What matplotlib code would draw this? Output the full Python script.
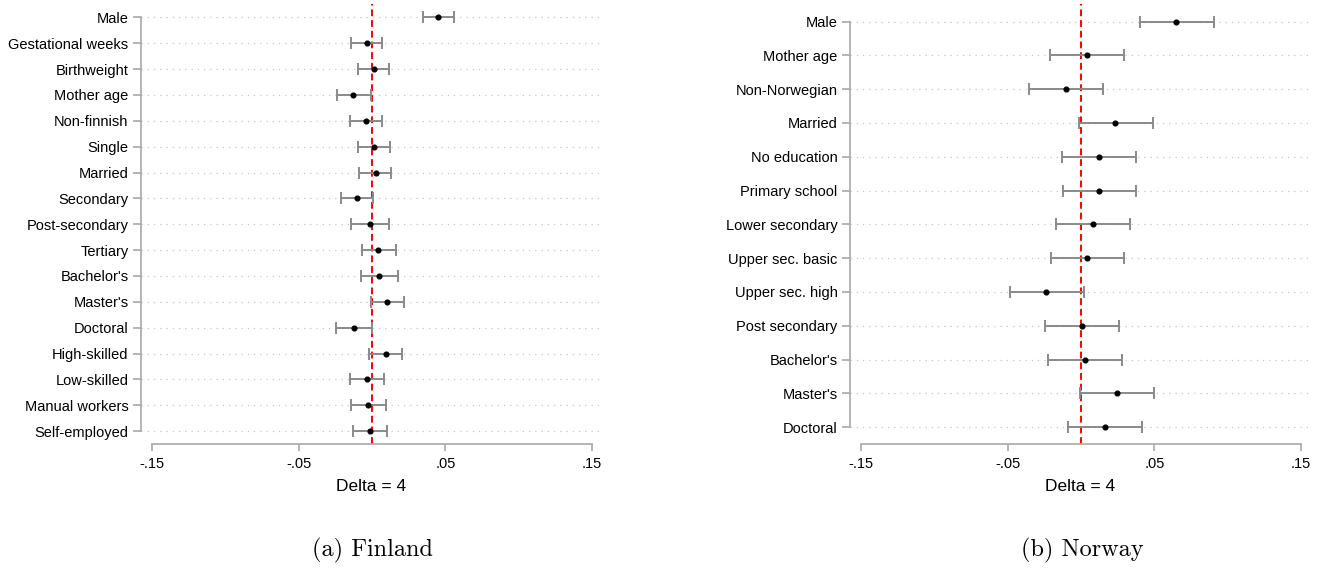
import matplotlib
matplotlib.use("Agg")
import matplotlib.pyplot as plt
import numpy as np

plt.rcParams['font.family'] = ['Liberation Sans', 'DejaVu Sans']

# ---------------- data ----------------
fin_labels = ["Male", "Gestational weeks", "Birthweight", "Mother age", "Non-finnish",
              "Single", "Married", "Secondary", "Post-secondary", "Tertiary",
              "Bachelor's", "Master's", "Doctoral", "High-skilled", "Low-skilled",
              "Manual workers", "Self-employed"]
fin_est = [0.045, -0.0036, 0.0011, -0.0128, -0.0039, 0.0014, 0.0023, -0.0102, -0.0016,
           0.0043, 0.0050, 0.0102, -0.0125, 0.0091, -0.0036, -0.0027, -0.0016]
fin_lo = [0.035, -0.0143, -0.0096, -0.0240, -0.0148, -0.0098, -0.0087, -0.0216, -0.0143,
          -0.0070, -0.0075, -0.0009, -0.0246, -0.0025, -0.0152, -0.0146, -0.0134]
fin_hi = [0.056, 0.0068, 0.0116, -0.0009, 0.0070, 0.0120, 0.0128, 0.0009, 0.0114,
          0.0162, 0.0173, 0.0218, -0.0002, 0.0207, 0.0080, 0.0091, 0.0102]

nor_labels = ["Male", "Mother age", "Non-Norwegian", "Married", "No education",
              "Primary school", "Lower secondary", "Upper sec. basic", "Upper sec. high",
              "Post secondary", "Bachelor's", "Master's", "Doctoral"]
nor_est = [0.065, 0.0039, -0.0101, 0.0233, 0.0121, 0.0125, 0.0080, 0.0043, -0.0238,
           0.0009, 0.0023, 0.0245, 0.0166]
nor_lo = [0.040, -0.0212, -0.0354, -0.0018, -0.0130, -0.0125, -0.0171, -0.0208, -0.0488,
          -0.0245, -0.0228, -0.0005, -0.0087]
nor_hi = [0.0904, 0.0290, 0.0151, 0.0488, 0.0375, 0.0375, 0.0331, 0.0295, 0.0016,
          0.0260, 0.0276, 0.0498, 0.0418]

xticks = [-0.15, -0.05, 0.05, 0.15]
xticklabels = ["-.15", "-.05", ".05", ".15"]
xlabel = "Delta = 4"
captions = ["(a) Finland", "(b) Norway"]

# ---------------- figure ----------------
W, H = 1324, 571
fig = plt.figure(figsize=(W / 100, H / 100), dpi=100)

GREY = "#8a8a8a"
SPINE = "#a8a8a8"
GRID = "#c4c4c4"


def panel(left_px, labels, est, lo, hi):
    top_px, bot_px, right_px = 4, 444, left_px + 460
    ax = fig.add_axes([left_px / W, 1 - bot_px / H, (right_px - left_px) / W,
                       (bot_px - top_px) / H])
    n = len(labels)
    y = np.arange(n)
    est = np.asarray(est)
    lo = np.asarray(lo)
    hi = np.asarray(hi)
    ax.set_xlim(-0.1578, 0.1562)
    ax.set_ylim(n - 1 + 0.5, -0.52)
    for yy in y:
        ax.axhline(yy, color=GRID, lw=0.9, ls=(0, (1, 4)), zorder=0)
    ax.axvline(0, color="#ff0000", lw=1.4, ls=(0, (3.5, 2)), zorder=1)
    ax.errorbar(est, y, xerr=[est - lo, hi - est], fmt="none", ecolor=GREY,
                elinewidth=1.4, capsize=4, capthick=1.4, zorder=2)
    ax.plot(est, y, "o", color="black", ms=3.4, zorder=3)
    ax.set_yticks(y)
    ax.set_yticklabels(labels, fontsize=10.5)
    ax.set_xticks(xticks)
    ax.set_xticklabels(xticklabels, fontsize=10.5)
    for s in ["top", "right"]:
        ax.spines[s].set_visible(False)
    ax.spines["left"].set_bounds(0, n - 1)
    ax.spines["bottom"].set_bounds(-0.15, 0.15)
    for s in ["left", "bottom"]:
        ax.spines[s].set_color(SPINE)
        ax.spines[s].set_linewidth(1.2)
    ax.tick_params(axis="y", length=6, width=1.2, color=SPINE, pad=3)
    ax.tick_params(axis="x", length=5, width=1.2, color=SPINE, pad=4)
    ax.set_xlabel(xlabel, fontsize=12.5, labelpad=6)
    return ax


panel(141, fin_labels, fin_est, fin_lo, fin_hi)
panel(850, nor_labels, nor_est, nor_lo, nor_hi)

fig.text(372 / W, 1 - 550 / H, captions[0], ha="center", va="center",
         fontsize=17.5, family="cmr10")
fig.text(1082 / W, 1 - 550 / H, captions[1], ha="center", va="center",
         fontsize=17.5, family="cmr10")

fig.savefig("out.png", dpi=100)
